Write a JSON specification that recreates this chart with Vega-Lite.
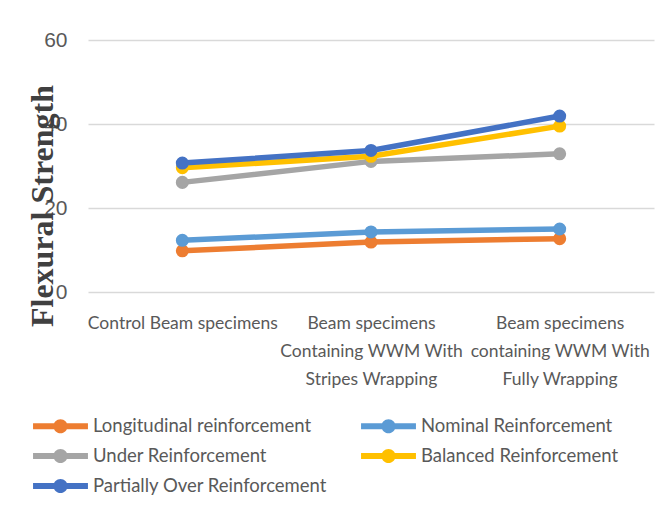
{
  "$schema": "https://vega.github.io/schema/vega-lite/v6.json",
  "width": 566,
  "height": 252,
  "autosize": "none",
  "padding": {"left": 88, "top": 40, "right": 14, "bottom": 231},
  "background": "white",
  "data": {
    "values": [
      {"cat": "Control Beam specimens", "series": "Longitudinal reinforcement", "value": 9.8},
      {"cat": "Beam specimens|Containing WWM With|Stripes Wrapping", "series": "Longitudinal reinforcement", "value": 11.9},
      {"cat": "Beam specimens|containing WWM With|Fully Wrapping", "series": "Longitudinal reinforcement", "value": 12.7},
      {"cat": "Control Beam specimens", "series": "Nominal Reinforcement", "value": 12.3},
      {"cat": "Beam specimens|Containing WWM With|Stripes Wrapping", "series": "Nominal Reinforcement", "value": 14.3},
      {"cat": "Beam specimens|containing WWM With|Fully Wrapping", "series": "Nominal Reinforcement", "value": 15.0},
      {"cat": "Control Beam specimens", "series": "Under Reinforcement", "value": 26.1},
      {"cat": "Beam specimens|Containing WWM With|Stripes Wrapping", "series": "Under Reinforcement", "value": 31.1},
      {"cat": "Beam specimens|containing WWM With|Fully Wrapping", "series": "Under Reinforcement", "value": 32.9},
      {"cat": "Control Beam specimens", "series": "Balanced Reinforcement", "value": 29.6},
      {"cat": "Beam specimens|Containing WWM With|Stripes Wrapping", "series": "Balanced Reinforcement", "value": 32.3},
      {"cat": "Beam specimens|containing WWM With|Fully Wrapping", "series": "Balanced Reinforcement", "value": 39.5},
      {"cat": "Control Beam specimens", "series": "Partially Over Reinforcement", "value": 30.7},
      {"cat": "Beam specimens|Containing WWM With|Stripes Wrapping", "series": "Partially Over Reinforcement", "value": 33.7},
      {"cat": "Beam specimens|containing WWM With|Fully Wrapping", "series": "Partially Over Reinforcement", "value": 41.9}
    ]
  },
  "config": {
    "view": {"stroke": null},
    "font": "Lato"
  },
  "encoding": {
    "x": {
      "field": "cat",
      "type": "nominal",
      "sort": null,
      "scale": {"padding": 0.5},
      "axis": {
        "title": null,
        "labelAngle": 0,
        "labelExpr": "split(datum.label, '|')",
        "labelFont": "Lato",
        "labelFontSize": 17.5,
        "labelLineHeight": 28,
        "labelColor": "#595959",
        "labelPadding": 22,
        "ticks": false,
        "domain": false,
        "grid": false,
        "labelLimit": 300
      }
    },
    "y": {
      "field": "value",
      "type": "quantitative",
      "scale": {"domain": [0, 60]},
      "axis": {
        "values": [0, 20, 40, 60],
        "title": "Flexural Strength",
        "titleFont": "Liberation Serif",
        "titleFontWeight": "bold",
        "titleFontSize": 32,
        "titleColor": "#404040",
        "titleX": -36,
        "titleY": 165.5,
        "titleAlign": "center",
        "titleBaseline": "alphabetic",
        "titleAngle": -90,
        "labelFont": "Liberation Sans",
        "labelFontSize": 21,
        "labelColor": "#595959",
        "labelPadding": 21,
        "ticks": false,
        "domain": false,
        "gridColor": "#d9d9d9",
        "gridWidth": 1.5
      }
    },
    "color": {
      "field": "series",
      "type": "nominal",
      "scale": {
        "domain": ["Longitudinal reinforcement", "Nominal Reinforcement", "Under Reinforcement", "Balanced Reinforcement", "Partially Over Reinforcement"],
        "range": ["#ED7D31", "#5B9BD5", "#A5A5A5", "#FFC000", "#4472C4"]
      },
      "legend": {
        "orient": "none",
        "legendX": -42.5,
        "legendY": 371,
        "columns": 2,
        "direction": "horizontal",
        "title": null,
        "labelFont": "Lato",
        "labelFontSize": 18.5,
        "labelColor": "#595959",
        "labelOffset": 17.5,
        "labelLimit": 400,
        "symbolType": "M -1.83 -0.2 L 1.83 -0.2 L 1.83 0.2 L -1.83 0.2 Z M 0.47 0 A 0.47 0.47 0 1 1 -0.47 0 A 0.47 0.47 0 1 1 0.47 0 Z",
        "symbolSize": 900,
        "symbolStrokeWidth": 0,
        "rowPadding": 5,
        "columnPadding": 33,
        "encode": {
          "symbols": {"update": {"fill": {"scale": "color", "field": "value"}, "fillOpacity": {"value": 1}, "strokeWidth": {"value": 0}}}
        }
      }
    }
  },
  "layer": [
    {"mark": {"type": "line", "strokeWidth": 5.5}},
    {"mark": {"type": "point", "filled": true, "size": 170, "opacity": 1}}
  ]
}
